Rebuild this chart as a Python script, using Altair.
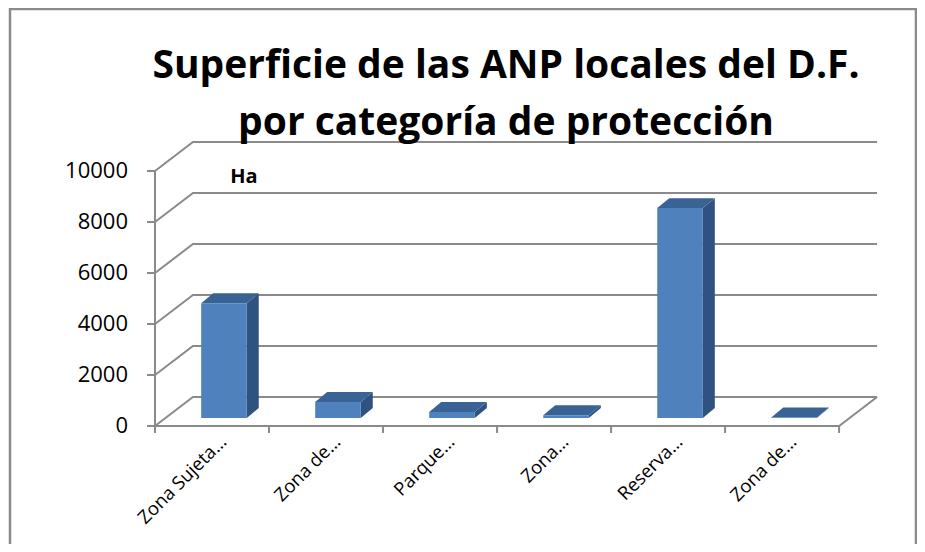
import altair as alt
import pandas as pd

# ---- data ----
categories = ["Zona Sujeta…", "Zona de…", "Parque…", "Zona…", "Reserva…", "Zona de…"]
values = [4500, 630, 235, 110, 8230, 20]
y_ticks = [0, 2000, 4000, 6000, 8000, 10000]
title_lines = ["Superficie de las ANP locales del D.F.", "por categoría de protección"]
unit_label = "Ha"

# ---- style / geometry constants (pseudo-3D look) ----
N = len(categories)
W, H = 724, 284
X_MAX = 6.35
Y_MAX = 11137
DEPTH_X, DEPTH_Y = 0.333, 1137          # floor depth offset
BAR_OFF_X, BAR_OFF_Y = 0.105, 314       # bar front face position inside the depth
BAR_DX, BAR_DY = 0.105, 392             # bar depth
BAR_W = 0.40
GRID = "#8a8a8a"
FRONT, SIDE, TOP = "#4F81BD", "#2F5281", "#3A6395"
FONT = "Open Sans"

# ---- tables built from the arrays ----
front_rows, side_rows, top_rows, label_rows = [], [], [], []
for i, (c, v) in enumerate(zip(categories, values)):
    xl = i + 0.5 - BAR_W / 2 + BAR_OFF_X
    xr = xl + BAR_W
    base, top = BAR_OFF_Y, BAR_OFF_Y + v
    front_rows.append({"bar": i, "x": xl, "x2": xr, "y": base, "y2": top})
    side_rows += [
        {"bar": i, "x": xr, "lo": base, "hi": top},
        {"bar": i, "x": xr + BAR_DX, "lo": base + BAR_DY, "hi": top + BAR_DY},
    ]
    top_rows += [
        {"bar": i, "x": xl, "lo": top, "hi": top},
        {"bar": i, "x": xl + BAR_DX, "lo": top, "hi": top + BAR_DY},
        {"bar": i, "x": xr, "lo": top, "hi": top + BAR_DY},
        {"bar": i, "x": xr + BAR_DX, "lo": top + BAR_DY, "hi": top + BAR_DY},
    ]
    label_rows.append({"x": i + 0.5, "y": 0, "label": c})

grid_rows = []
for t in y_ticks:
    grid_rows += [
        {"lvl": str(t), "k": 0, "x": 0, "y": t},
        {"lvl": str(t), "k": 1, "x": DEPTH_X, "y": t + DEPTH_Y},
        {"lvl": str(t), "k": 2, "x": N + DEPTH_X, "y": t + DEPTH_Y},
    ]
grid_rows += [
    {"lvl": "floor", "k": 0, "x": 0, "y": 0},
    {"lvl": "floor", "k": 1, "x": N, "y": 0},
    {"lvl": "floor", "k": 2, "x": N + DEPTH_X, "y": DEPTH_Y},
    {"lvl": "axis", "k": 0, "x": 0, "y": 0},
    {"lvl": "axis", "k": 1, "x": 0, "y": y_ticks[-1]},
]

front_df = pd.DataFrame(front_rows)
side_df = pd.DataFrame(side_rows)
top_df = pd.DataFrame(top_rows)
grid_df = pd.DataFrame(grid_rows)
label_df = pd.DataFrame(label_rows)
ytick_df = pd.DataFrame({"x": [0] * len(y_ticks), "y": y_ticks, "lab": [str(t) for t in y_ticks]})
xtick_df = pd.DataFrame({"x": list(range(N + 1)), "y": [0] * (N + 1)})

xs = alt.Scale(domain=[0, X_MAX], nice=False, zero=False)
ys = alt.Scale(domain=[0, Y_MAX], nice=False, zero=False)


def X(f):
    return alt.X(f, type="quantitative", scale=xs, axis=None)


def Y(f):
    return alt.Y(f, type="quantitative", scale=ys, axis=None)


grid = alt.Chart(grid_df).mark_line(color=GRID, strokeWidth=2).encode(
    x=X("x"), y=Y("y"), detail="lvl:N", order="k:Q"
)

ytick = alt.Chart(ytick_df).mark_rule(color=GRID, strokeWidth=2).encode(
    x=X("x"), x2=alt.value(-8), y=Y("y")
)
xtick = alt.Chart(xtick_df).mark_rule(color=GRID, strokeWidth=2).encode(
    x=X("x"), y=Y("y"), y2=alt.value(H + 7)
)
ylab = alt.Chart(ytick_df).mark_text(
    align="right", baseline="middle", dx=-27, font=FONT, fontSize=22, color="black"
).encode(x=X("x"), y=Y("y"), text="lab:N")

side = alt.Chart(side_df).mark_area(color=SIDE, opacity=1).encode(
    x=X("x"), y=Y("lo"), y2="hi:Q", detail="bar:N"
)
topf = alt.Chart(top_df).mark_area(color=TOP, opacity=1).encode(
    x=X("x"), y=Y("lo"), y2="hi:Q", detail="bar:N"
)
front = alt.Chart(front_df).mark_rect(color=FRONT).encode(
    x=X("x"), x2="x2:Q", y=Y("y"), y2="y2:Q"
)

labels = alt.Chart(label_df).mark_text(
    angle=315, align="right", baseline="alphabetic", dx=-1, dy=23,
    font=FONT, fontSize=18.5, color="black",
).encode(x=X("x"), y=Y("y"), text="label:N")

one = pd.DataFrame({"a": [0]})
title = alt.Chart(one).mark_text(
    text=title_lines, font=FONT, fontSize=39, fontWeight="bold", color="black",
    align="center", baseline="alphabetic", lineHeight=57,
).encode(x=alt.value(351), y=alt.value(-64))

unit = alt.Chart(one).mark_text(
    text=unit_label, font=FONT, fontSize=20, fontWeight="bold", color="black",
    align="center", baseline="middle",
).encode(x=alt.value(89), y=alt.value(35))

border = alt.Chart(one).mark_rect(
    fill=None, stroke="#8a8a8a", strokeWidth=2.5
).encode(
    x=alt.value(-145), x2=alt.value(761), y=alt.value(-133), y2=alt.value(430)
)

chart = alt.layer(
    grid, ytick, xtick, ylab, side, topf, front, labels, title, unit, border
).properties(
    width=W,
    height=H,
    autosize=alt.AutoSizeParams(type="none"),
    padding={"left": 147, "top": 134, "right": 38, "bottom": 118},
).configure(background="white").configure_view(stroke=None)

chart.save("out.html", embed_options={"renderer": "svg", "actions": False})
